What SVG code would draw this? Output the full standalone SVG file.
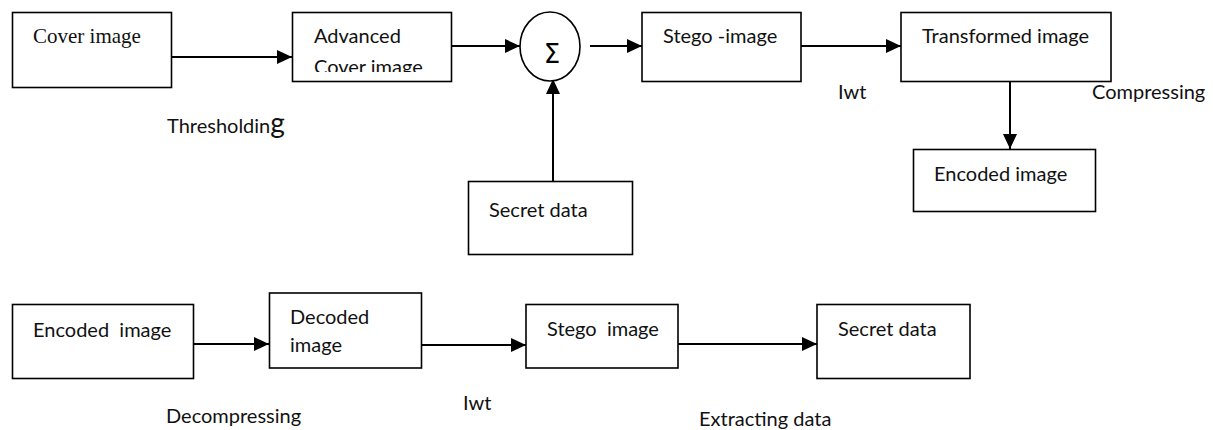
<svg xmlns="http://www.w3.org/2000/svg" width="1213" height="430" viewBox="0 0 1213 430">
  <style>
    .box { fill: #ffffff; stroke: #000000; stroke-width: 1.6; }
    .sum { fill: #ffffff; stroke: #000000; stroke-width: 1.6; }
    .wire { fill: none; stroke: #000000; stroke-width: 2; }
    .lbl { font-family: Lato, "Open Sans", "Liberation Sans", sans-serif; font-size: 20px; fill: #111111; }
    .serif { font-family: "Liberation Serif", "Times New Roman", serif; font-size: 21px; fill: #111111; }
    .sigma { font-family: "DejaVu Sans", "Liberation Sans", sans-serif; font-size: 26px; fill: #000000; }
  </style>
  <defs>
    <marker id="arrow" markerUnits="userSpaceOnUse" markerWidth="15" markerHeight="14" refX="15" refY="7" orient="auto">
      <path d="M0,0 L15,7 L0,14 Z" fill="#000000"/>
    </marker>
    <clipPath id="advClip">
      <rect x="292" y="12" width="160" height="60"/>
    </clipPath>
  </defs>

  <rect width="1213" height="430" fill="#ffffff"/>

  <!-- connectors -->
  <g id="connectors" class="wire">
    <line x1="172" y1="57" x2="292" y2="57" marker-end="url(#arrow)"/>
    <line x1="452" y1="46" x2="520" y2="46" marker-end="url(#arrow)"/>
    <line x1="590" y1="46" x2="642" y2="46" marker-end="url(#arrow)"/>
    <line x1="553" y1="181" x2="553" y2="79" marker-end="url(#arrow)"/>
    <line x1="788" y1="46" x2="901" y2="46" marker-end="url(#arrow)"/>
    <line x1="1010" y1="71" x2="1010" y2="149" marker-end="url(#arrow)"/>
    <line x1="194" y1="344" x2="269" y2="344" marker-end="url(#arrow)"/>
    <line x1="422" y1="345" x2="526" y2="345" marker-end="url(#arrow)"/>
    <line x1="678" y1="344" x2="817" y2="344" marker-end="url(#arrow)"/>
  </g>

  <!-- top row: embedding -->
  <g id="cover-image">
    <rect class="box" x="12.5" y="12.5" width="159" height="75"/>
    <text class="serif" x="33" y="43">Cover image</text>
  </g>

  <g id="advanced-cover-image">
    <rect class="box" x="292.5" y="12.5" width="159" height="69"/>
    <g clip-path="url(#advClip)">
      <text class="lbl" x="314" y="43">Advanced</text>
      <text class="lbl" x="314" y="74">Cover image</text>
    </g>
  </g>

  <g id="sum">
    <ellipse class="sum" cx="550" cy="46.5" rx="30" ry="34.5"/>
    <text class="sigma" x="552" y="63" text-anchor="middle">Σ</text>
  </g>

  <g id="secret-data-in">
    <rect class="box" x="468.5" y="181.5" width="164" height="73"/>
    <text class="lbl" x="489" y="217">Secret data</text>
  </g>

  <g id="stego-image">
    <rect class="box" x="642" y="12.5" width="159" height="69"/>
    <text class="lbl" x="663" y="43">Stego -image</text>
  </g>

  <g id="transformed-image">
    <rect class="box" x="901" y="12.5" width="210" height="69"/>
    <text class="lbl" x="922" y="43">Transformed image</text>
  </g>

  <g id="encoded-image-out">
    <rect class="box" x="913.5" y="149.5" width="182" height="62"/>
    <text class="lbl" x="934" y="181">Encoded image</text>
  </g>

  <!-- bottom row: extraction -->
  <g id="encoded-image-in">
    <rect class="box" x="12.5" y="304.5" width="181" height="74"/>
    <text class="lbl" x="33" y="337" xml:space="preserve">Encoded  image</text>
  </g>

  <g id="decoded-image">
    <rect class="box" x="269.5" y="293" width="152" height="75"/>
    <text class="lbl" x="290" y="324">Decoded</text>
    <text class="lbl" x="290" y="352">image</text>
  </g>

  <g id="stego-image-out">
    <rect class="box" x="526" y="304.5" width="152" height="63.5"/>
    <text class="lbl" x="547" y="336" xml:space="preserve">Stego  image</text>
  </g>

  <g id="secret-data-out">
    <rect class="box" x="817" y="304.5" width="153" height="74"/>
    <text class="lbl" x="838" y="336">Secret data</text>
  </g>

  <!-- operation labels -->
  <g id="labels">
    <text class="lbl" x="167" y="133">Thresholdin<tspan font-size="28">g</tspan></text>
    <text class="lbl" x="838" y="99">Iwt</text>
    <text class="lbl" x="1092" y="99">Compressing</text>
    <text class="lbl" x="166" y="423">Decompressing</text>
    <text class="lbl" x="463" y="410">Iwt</text>
    <text class="lbl" x="699" y="426">Extracting data</text>
  </g>
</svg>
